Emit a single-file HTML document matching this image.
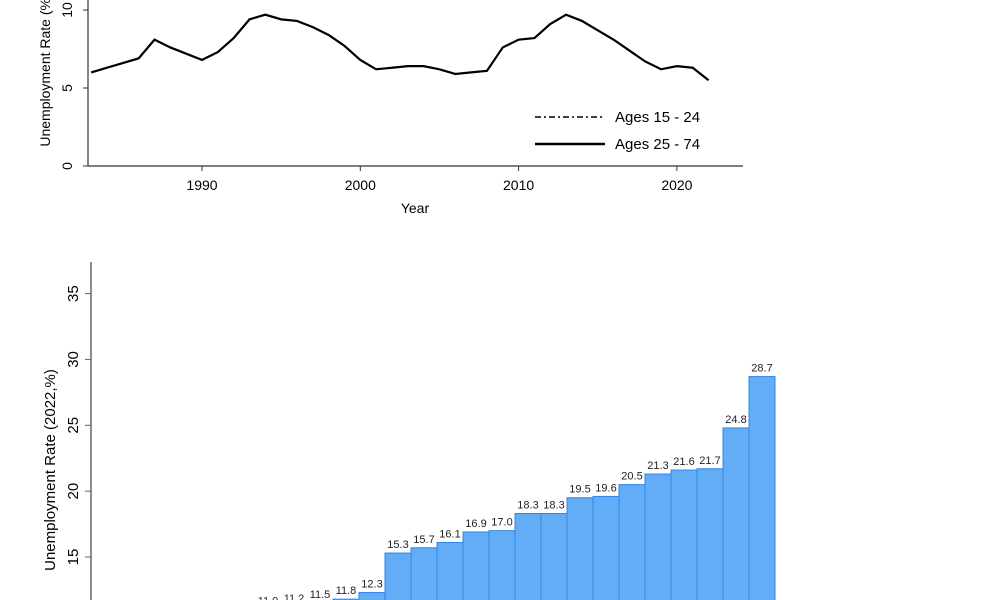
<!DOCTYPE html>
<html><head><meta charset="utf-8"><style>
html,body{margin:0;padding:0;background:#fff;width:1000px;height:600px;overflow:hidden}
svg{font-family:"Liberation Sans",sans-serif}
</style></head><body>
<svg width="1000" height="600">
<g id="topG"></g>
<g id="botG"></g>
</svg>
<script>
const years=[1983,1984,1985,1986,1987,1988,1989,1990,1991,1992,1993,1994,1995,1996,1997,1998,1999,2000,2001,2002,2003,2004,2005,2006,2007,2008,2009,2010,2011,2012,2013,2014,2015,2016,2017,2018,2019,2020,2021,2022];
const rate2574=[6.0,6.3,6.6,6.9,8.1,7.6,7.2,6.8,7.3,8.2,9.4,9.7,9.4,9.3,8.9,8.4,7.7,6.8,6.2,6.3,6.4,6.4,6.2,5.9,6.0,6.1,7.6,8.1,8.2,9.1,9.7,9.3,8.7,8.1,7.4,6.7,6.2,6.4,6.3,5.5];
const xTicks=[1990,2000,2010,2020];
const yTicksTop=[0,5,10];
const barValues=[9.0,9.4,9.8,10.1,10.4,10.7,11.0,11.2,11.5,11.8,12.3,15.3,15.7,16.1,16.9,17.0,18.3,18.3,19.5,19.6,20.5,21.3,21.6,21.7,24.8,28.7];
const barLabels=["9.0","9.4","9.8","10.1","10.4","10.7","11.0","11.2","11.5","11.8","12.3","15.3","15.7","16.1","16.9","17.0","18.3","18.3","19.5","19.6","20.5","21.3","21.6","21.7","24.8","28.7"];
const yTicksBot=[15,20,25,30,35];
const NS="http://www.w3.org/2000/svg";
function mk(p,t,a,txt){const e=document.createElementNS(NS,t);for(const k in a)e.setAttribute(k,a[k]);if(txt!==undefined)e.textContent=txt;p.appendChild(e);return e;}
const topG=document.getElementById('topG'),botG=document.getElementById('botG');
const xs=y=>202+(y-1990)*15.83, ys=v=>166-v*15.6;
let e=mk(topG,'line',{x1:88,y1:166,x2:743,y2:166,stroke:'#333','stroke-width':1.2});


e=mk(topG,'line',{x1:88,y1:0,x2:88,y2:166,stroke:'#333','stroke-width':1.2});


xTicks.forEach(t=>{mk(topG,'line',{x1:xs(t),y1:166,x2:xs(t),y2:171,stroke:'#333'});
e=mk(topG,'text',{x:xs(t),y:190,'text-anchor':'middle','font-size':14},t);

});
yTicksTop.forEach(t=>{mk(topG,'line',{x1:83,y1:ys(t),x2:88,y2:ys(t),stroke:'#333'});
e=mk(topG,'text',{x:0,y:0,'text-anchor':'middle','font-size':14,transform:`translate(72,${ys(t)}) rotate(-90)`},t);

});
e=mk(topG,'text',{x:0,y:0,'text-anchor':'middle','font-size':14,transform:'translate(50,70) rotate(-90)'},'Unemployment Rate (%)');


e=mk(topG,'text',{x:415,y:213,'text-anchor':'middle','font-size':14},'Year');


e=mk(topG,'polyline',{points:years.map((y,i)=>xs(y)+','+ys(rate2574[i])).join(' '),fill:'none',stroke:'#000','stroke-width':2.2});


mk(topG,'line',{x1:535,y1:117,x2:605,y2:117,stroke:'#000','stroke-width':1.5,'stroke-dasharray':'6 3 2 3'});
e=mk(topG,'text',{x:615,y:122,'font-size':15},'Ages 15 - 24');


mk(topG,'line',{x1:535,y1:144,x2:605,y2:144,stroke:'#000','stroke-width':2.5});
e=mk(topG,'text',{x:615,y:149,'font-size':15},'Ages 25 - 74');


const yb=v=>557-(v-15)*13.17, bw=26, x0=775-bw*barValues.length;
barValues.forEach((v,i)=>{const x=x0+i*bw;
e=mk(botG,'rect',{x:x,y:yb(v),width:bw,height:Math.max(0,620-yb(v)),fill:'#62adf5',stroke:'#2e86e8','stroke-width':1});


e=mk(botG,'text',{x:x+bw/2,y:yb(v)-5,'text-anchor':'middle','font-size':11,fill:'#222'},barLabels[i]);

});
e=mk(botG,'line',{x1:91,y1:262,x2:91,y2:600,stroke:'#666','stroke-width':1.5});


yTicksBot.forEach(t=>{mk(botG,'line',{x1:85,y1:yb(t),x2:91,y2:yb(t),stroke:'#666'});
e=mk(botG,'text',{x:0,y:0,'text-anchor':'middle','font-size':15,transform:`translate(78,${yb(t)}) rotate(-90)`},t);

});
e=mk(botG,'text',{x:0,y:0,'text-anchor':'middle','font-size':15,transform:'translate(55,470) rotate(-90)'},'Unemployment Rate (2022,%)');


</script>
</body></html>
